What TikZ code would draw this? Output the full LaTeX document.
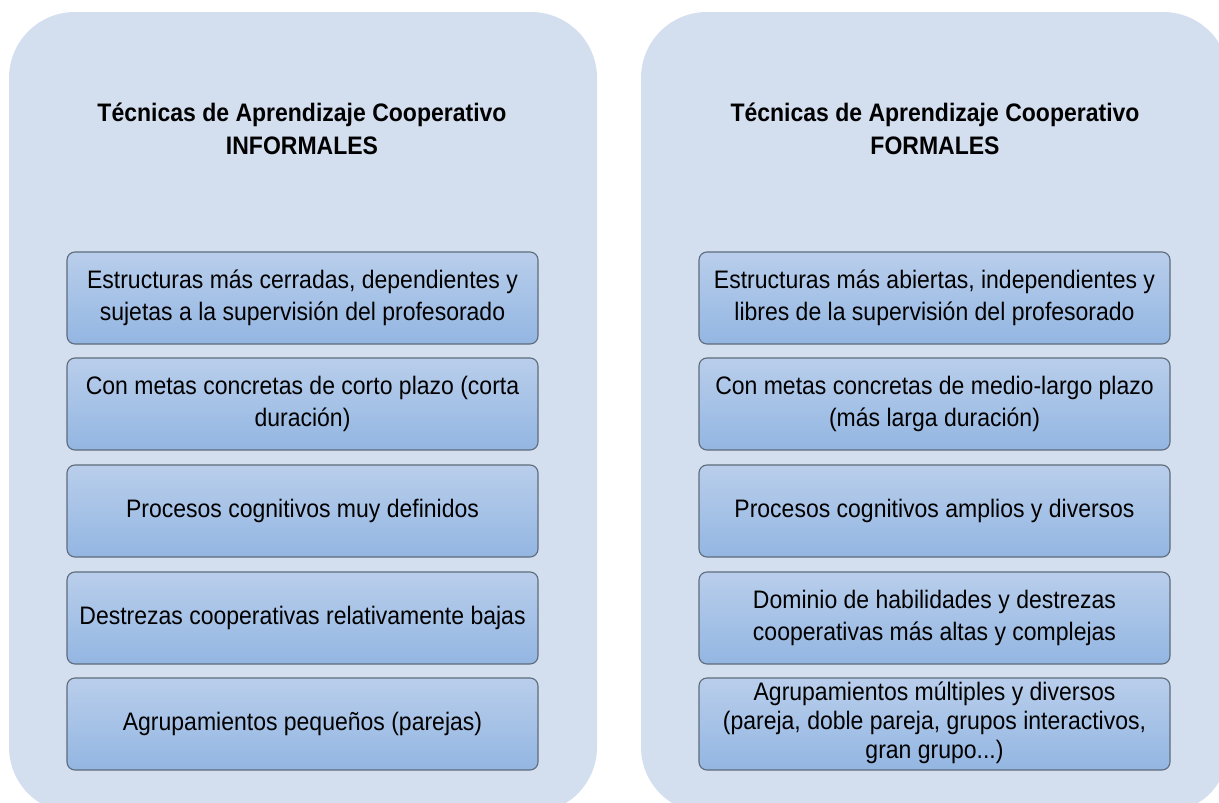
\documentclass[tikz,border=0pt]{standalone}
\usepackage{fontspec}
\usepackage{graphicx}
\setmainfont{Liberation Sans}
\definecolor{panelc}{HTML}{D3DEEF}
\definecolor{boxtop}{HTML}{B9CEEB}
\definecolor{boxbot}{HTML}{93B6E2}
\definecolor{boxline}{HTML}{5E6B7B}
\newcommand{\vstr}[1]{\scalebox{1}[1.1]{\begin{tabular}{@{}c@{}}#1\end{tabular}}}
\tikzset{
  panel/.style={fill=panelc, draw=none, rounded corners=66pt, minimum width=588pt, minimum height=801pt, inner sep=0pt},
  title/.style={align=center, font=\fontsize{23}{30}\selectfont\bfseries, text=black, inner sep=0pt},
  item/.style={draw=boxline, line width=1.1pt, top color=boxtop, bottom color=boxbot, rounded corners=8pt,
    minimum width=471pt, minimum height=92pt, align=center, inner sep=0pt,
    font=\fontsize{23}{29.1}\selectfont, text=black},
}
\begin{document}
\begin{tikzpicture}[x=1pt,y=-1pt]
\useasboundingbox (0,0) rectangle (1219,803);
\clip (0,0) rectangle (1219,803);
\node[panel] (lp) at (303,412.5) {};
\node[panel] (rp) at (935,412.5) {};
\node[title] (lt) at (302,131) {\vstr{Técnicas de Aprendizaje Cooperativo\\INFORMALES}};
\node[title] (rt) at (935,131) {\vstr{Técnicas de Aprendizaje Cooperativo\\FORMALES}};
\node[item] (l1) at (302.5,298) {\vstr{Estructuras más cerradas, dependientes y\\sujetas a la supervisión del profesorado}};
\node[item] (l2) at (302.5,404) {\vstr{Con metas concretas de corto plazo (corta\\duración)}};
\node[item] (l3) at (302.5,511) {\vstr{Procesos cognitivos muy definidos}};
\node[item] (l4) at (302.5,618) {\vstr{Destrezas cooperativas relativamente bajas}};
\node[item] (l5) at (302.5,724) {\vstr{Agrupamientos pequeños (parejas)}};
\node[item] (r1) at (934.5,298) {\vstr{Estructuras más abiertas, independientes y\\libres de la supervisión del profesorado}};
\node[item] (r2) at (934.5,404) {\vstr{Con metas concretas de medio-largo plazo\\(más larga duración)}};
\node[item] (r3) at (934.5,511) {\vstr{Procesos cognitivos amplios y diversos}};
\node[item] (r4) at (934.5,618) {\vstr{Dominio de habilidades y destrezas\\cooperativas más altas y complejas}};
\node[item, font=\fontsize{23}{26.2}\selectfont] (r5) at (934.5,724) {\vstr{Agrupamientos múltiples y diversos\\(pareja, doble pareja, grupos interactivos,\\gran grupo...)}};
\end{tikzpicture}
\end{document}
